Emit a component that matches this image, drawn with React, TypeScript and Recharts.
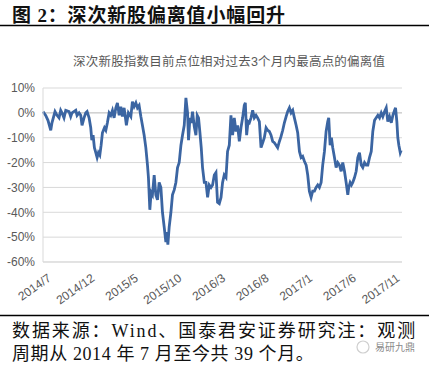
import React from "react"
import { CartesianGrid, Line, LineChart, ReferenceLine, XAxis, YAxis } from "recharts"

const months = [
  0.0, 0.31, 0.57, 0.89, 1.03, 1.38, 1.61, 1.84, 2.03, 2.18, 2.41, 2.61, 2.99, 3.18, 3.33, 3.76,
  3.91, 4.14, 4.33, 4.48, 4.71, 4.91, 5.06, 5.29, 5.48, 5.6, 5.75, 5.9, 6.06, 6.21, 6.36, 6.52,
  6.67, 6.82, 7.05, 7.21, 7.39, 7.59, 7.78, 7.97, 8.16, 8.36, 8.54, 8.74, 8.93, 9.11, 9.31, 9.57,
  9.8, 10.08, 10.26, 10.46, 10.66, 10.84, 11.03, 11.23, 11.41, 11.61, 11.8, 11.99, 12.1, 12.26,
  12.41, 12.56, 12.76, 12.95, 13.14, 13.33, 13.53, 13.71, 13.91, 14.1, 14.22, 14.33, 14.48, 14.68,
  14.86, 15.06, 15.25, 15.44, 15.63, 15.83, 16.01, 16.21, 16.4, 16.59, 16.7, 16.86, 17.01, 17.16,
  17.36, 17.55, 17.7, 17.85, 18.01, 18.16, 18.31, 18.51, 18.7, 18.89, 19.08, 19.28, 19.46, 19.66,
  19.85, 20.03, 20.23, 20.43, 20.61, 20.8, 21.0, 21.18, 21.38, 21.57, 21.76, 21.95, 22.15, 22.33,
  22.53, 22.72, 22.91, 23.1, 23.22, 23.37, 23.53, 23.68, 23.87, 24.06, 24.25, 24.45, 24.63, 24.83,
  25.02, 25.21, 25.4, 25.6, 25.78, 25.98, 26.17, 26.36, 26.55, 26.75, 26.93, 27.13, 27.32, 27.51,
  27.7, 27.9, 28.08, 28.28, 28.47, 28.66, 28.85, 29.05, 29.23, 29.43, 29.62, 29.8, 30.0, 30.2,
  30.38, 30.57, 30.77, 30.95, 31.15, 31.34, 31.53, 31.72, 31.92, 32.1, 32.3, 32.49, 32.68, 32.79,
  32.95, 33.1, 33.25, 33.45, 33.64, 33.83, 34.02, 34.22, 34.4, 34.6, 34.79, 34.98, 35.09, 35.25,
  35.4, 35.55, 35.75, 35.94, 36.13, 36.32, 36.52, 36.7, 36.9, 37.09, 37.28, 37.47, 37.67, 37.85,
  38.05, 38.24, 38.43, 38.62, 38.82, 39.0, 39.2, 39.39, 39.57, 39.77, 39.97, 40.15, 40.34, 40.46,
  40.61, 40.72, 40.84, 41.0, 41.11,
]

// deviation from 3-month high, %
const deviation = [
  0.5, -1, -3, -7, -4, 0.5, -1, -2, 1, 0, -2, 1, 0.5, -1.5, 0, 1,
  -1, 0, -1, -5, -2, 0, 0.5, -2, -6, -11, -9, -14, -16, -18, -16, -17,
  -13, -8, -6, -7, -4, 0, -1, 1, -2, 2, 4, -1, 2.5, -1.5, 2, -5,
  0, -1.5, 4.5, 2.5, 4, 2, 3, -1.5, -5, -9, -14, -21, -26, -39,
  -32, -33, -25, -33, -35, -28, -30, -40, -46, -52, -48, -53, -46, -40,
  -33, -31, -28, -22, -20, -13, -9, -5, 6, 0, -11, -2, -4, 0.5,
  -5.5, -9, -1, -2, -8, -14, -22, -28, -28, -34, -29, -30, -29, -25,
  -24, -36, -36.5, -34, -28, -25, -26, -15.5, -13, -1, -9, -2, -7.5, -5,
  -11.5, -6, -2, 3, 4, -9, -3.5, -4, -2, 1, -2, -1, -2, -3.5,
  -14, -12, -10, -6, -7, -7.5, -9, -11.5, -12, -13, -14, -11.5, -9.5, -7,
  -4, -1.5, 0.5, 2, 0, 1, -2, -5, -8, -15.5, -18, -17.5, -19.5, -21,
  -25, -31.5, -34, -31.5, -31.5, -30, -29, -30, -28, -21, -15.5, -7.5, -3.5, -2,
  -13, -10, -14, -18, -22, -20, -21, -23.5, -20, -23.5, -28, -33, -30, -28,
  -29, -28, -26, -23.5, -18, -16, -21, -22, -20, -21, -21, -18, -15.5, -7.5,
  -3, -2, -1, -2, 0, -1.5, 0.5, 2, -3.5, -1.5, -4, -1, 1, 2,
  -3.5, -10, -13, -16, -15,
]

const tickMonths = [0, 5, 10, 15, 20, 25, 30, 35, 40]
const tickLabels = ["2014/7", "2014/12", "2015/5", "2015/10", "2016/3", "2016/8", "2017/1", "2017/6", "2017/11"]
const yTicks = [10, 0, -10, -20, -30, -40, -50, -60]

const data = months.map((m, i) => ({ m, v: deviation[i] }))

const serif = '"Liberation Serif", "Noto Sans CJK SC", serif'
const sans = '"Liberation Sans", "Noto Sans CJK SC", sans-serif'

export default function App() {
  return (
    <div style={{ position: "fixed", left: 0, top: 0, width: 429, height: 366, background: "#fff", overflow: "hidden" }}>
      <LineChart
        width={429}
        height={366}
        data={data}
        margin={{ top: 88, right: 27, bottom: 54, left: 6 }}
        style={{ position: "absolute", left: 0, top: 0 }}
      >
        <CartesianGrid vertical={false} stroke="#d9d9d9" />
        <XAxis
          dataKey="m"
          type="number"
          domain={[0, 41.2]}
          ticks={tickMonths}
          tickFormatter={(v: number) => tickLabels[tickMonths.indexOf(v)] ?? ""}
          interval={0}
          height={50}
          angle={-35}
          textAnchor="end"
          tickLine={false}
          axisLine={{ stroke: "#d9d9d9" }}
          tick={{ fill: "#595959", fontSize: 12, fontFamily: sans }}
          dx={4}
          dy={3}
        />
        <YAxis
          type="number"
          domain={[-60, 10]}
          ticks={yTicks}
          interval={0}
          width={37}
          tickFormatter={(v: number) => `${v}%`}
          tickLine={false}
          axisLine={{ stroke: "#d9d9d9" }}
          tick={{ fill: "#595959", fontSize: 12, fontFamily: sans }}
        />
        <ReferenceLine y={0} stroke="#c8c8c8" />
        <Line
          dataKey="v"
          type="linear"
          stroke="#3b65a2"
          strokeWidth={2.8}
          dot={false}
          isAnimationActive={false}
        />
      </LineChart>
      <svg width={429} height={366} style={{ position: "absolute", left: 0, top: 0, pointerEvents: "none" }}>
        <text x={12} y={22} fontSize={19} fontWeight={700} fontFamily={serif} fill="#111" textLength={273}>
          图 2：深次新股偏离值小幅回升
        </text>
        <line x1={0} x2={429} y1={25.5} y2={25.5} stroke="#000" strokeWidth={1.6} />
        <text x={73} y={66} fontSize={12.5} fontFamily={sans} fill="#595959" textLength={312}>
          深次新股指数目前点位相对过去3个月内最高点的偏离值
        </text>
        <line x1={0} x2={429} y1={315.5} y2={315.5} stroke="#000" strokeWidth={1.6} />
        <text x={12} y={337} fontSize={18} fontFamily={serif} fill="#111" letterSpacing={1.9}>
          数据来源：Wind、国泰君安证券研究注：观测
        </text>
        <text x={12} y={360} fontSize={18} fontFamily={serif} fill="#111" letterSpacing={0.6}>
          周期从 2014 年 7 月至今共 39 个月。
        </text>
        <circle cx={363} cy={347} r={6} fill="none" stroke="#cfcfcf" strokeWidth={1.2} />
        <text x={375} y={351} fontSize={10} fontFamily={sans} fill="#8a8a8a">
          易研九鼎
        </text>
      </svg>
    </div>
  )
}
